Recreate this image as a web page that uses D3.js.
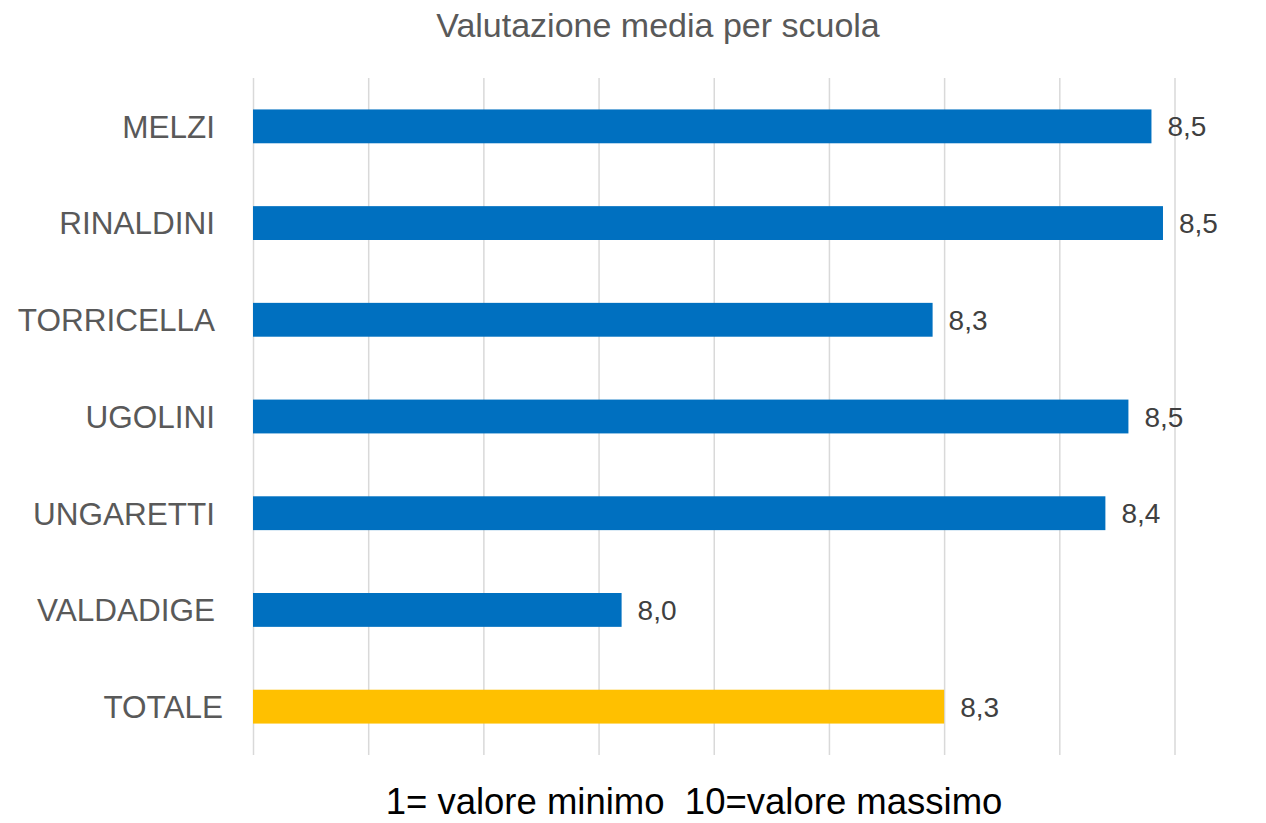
<html>
<head>
  <title>Valutazione media per scuola</title>
  <script src="https://d3js.org/d3.v7.min.js"></script>
  <style>
    body { margin: 0; background: #fff; }
    text { font-family: "Liberation Sans", Arial, sans-serif; }
    /* grey vertical gridlines */
    .gridlines line { stroke: #d9d9d9; stroke-width: 1.5; }
    .gridlines .domain { stroke: none; }
  </style>
</head>
<body>
  <svg id="barchart" width="1266" height="823"></svg>

  <script>
    // data
    const schools = ["MELZI", "RINALDINI", "TORRICELLA", "UGOLINI", "UNGARETTI", "VALDADIGE", "TOTALE"];
    const scores = [8.48, 8.49, 8.29, 8.46, 8.44, 8.02, 8.30];
    const axisDomain = [7.7, 8.5];

    const svg = d3.select("svg#barchart");
    const margin = { top: 78, left: 253, right: 1266 - 1174.5, bottom: 823 - 755 };
    const width = +svg.attr("width");
    const height = +svg.attr("height");

    const dataset = schools.map((s, i) => ({ school: s, score: scores[i], total: s === "TOTALE" }));

    const xScale = d3.scaleLinear().domain(axisDomain).range([margin.left, width - margin.right]);
    const yScale = d3.scaleBand().domain(schools)
      .range([margin.top, height - margin.bottom])
      .paddingInner(0.65).paddingOuter(0.325);

    // comma as decimal separator
    const itFormat = d3.formatLocale({ decimal: ",", thousands: ".", grouping: [3], currency: ["€", ""] }).format(".1f");

    // gridlines only, no tick labels
    let gridlines = d3.axisBottom(xScale).ticks(8).tickSize(-(height - margin.bottom - margin.top)).tickFormat("");
    svg.append("g")
      .attr("class", "gridlines")
      .attr("transform", `translate(0, ${height - margin.bottom})`)
      .call(gridlines);

    svg.selectAll("rect.bar").data(dataset)
      .join("rect")
      .attr("class", "bar")
      .attr("fill", d => d.total ? "#FFC000" : "#0070C0")
      .attr("x", xScale(axisDomain[0]))
      .attr("y", d => yScale(d.school))
      .attr("width", d => xScale(d.score) - xScale(axisDomain[0]))
      .attr("height", yScale.bandwidth());

    // value labels
    svg.selectAll("text.value").data(dataset)
      .join("text")
      .attr("class", "value")
      .attr("x", d => xScale(d.score) + 16)
      .attr("y", d => yScale(d.school) + yScale.bandwidth() / 2)
      .attr("dy", "0.36em")
      .attr("font-size", 28)
      .attr("fill", "#404040")
      .text(d => itFormat(d.score));

    // category labels
    svg.selectAll("text.cat").data(dataset)
      .join("text")
      .attr("class", "cat")
      .attr("x", d => d.total ? 223 : 215)
      .attr("y", d => yScale(d.school) + yScale.bandwidth() / 2)
      .attr("dy", "0.36em")
      .attr("text-anchor", "end")
      .attr("font-size", 31.5)
      .attr("fill", "#595959")
      .text(d => d.school);

    svg.append("text")
      .attr("x", 658)
      .attr("y", 37)
      .attr("text-anchor", "middle")
      .attr("font-size", 34)
      .attr("fill", "#595959")
      .text("Valutazione media per scuola");

    svg.append("text")
      .attr("x", 694)
      .attr("y", 814)
      .attr("text-anchor", "middle")
      .attr("font-size", 36.5)
      .attr("fill", "#000")
      .attr("xml:space", "preserve")
      .style("white-space", "pre")
      .text("1= valore minimo  10=valore massimo");
  </script>
</body>
</html>
